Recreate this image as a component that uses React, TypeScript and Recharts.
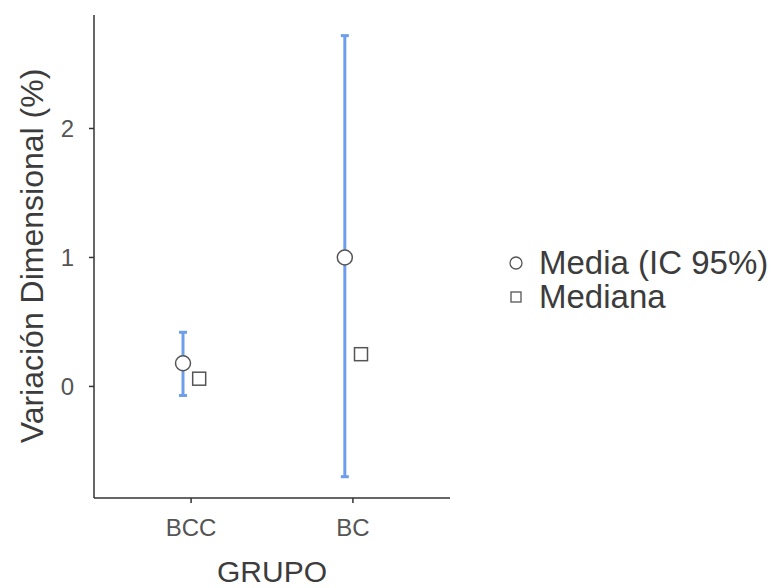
import React from "react";
import {
  ComposedChart,
  Scatter,
  ErrorBar,
  XAxis,
  YAxis,
  Label,
} from "recharts";

// group labels on the x axis
const groups = ["BCC", "BC"];
const groupPos = [1, 2];

// mean with 95% CI, and median, per group
const meanValues = [0.18, 1.0];
const ciLower = [-0.07, -0.7];
const ciUpper = [0.42, 2.72];
const medianValues = [0.06, 0.25];

const yTicks = [0, 1, 2];

const FONT = "'Liberation Sans', Arial, sans-serif";
const BLUE = "#6d9eeb";
const GREY = "#555555";
const TITLE = "#3c3c3c";

const meanData = groups.map((g, i) => ({
  x: groupPos[i] - 0.05,
  y: meanValues[i],
  ci: [meanValues[i] - ciLower[i], ciUpper[i] - meanValues[i]],
}));

const medianData = groups.map((g, i) => ({
  x: groupPos[i] + 0.05,
  y: medianValues[i],
}));

const CircleShape = (props: any) => (
  <circle cx={props.cx} cy={props.cy} r={7.5} fill="#ffffff" stroke={GREY} strokeWidth={1.5} />
);

const SquareShape = (props: any) => (
  <rect x={props.cx - 6.5} y={props.cy - 6.5} width={13} height={13} fill="#ffffff" stroke={GREY} strokeWidth={1.5} />
);

// legend drawn beside the plot, like the original
const LegendBox = () => (
  <div
    style={{
      position: "absolute",
      left: 500,
      top: 246,
      fontFamily: FONT,
      color: TITLE,
      fontSize: 33,
      lineHeight: "34px",
      whiteSpace: "nowrap",
    }}
  >
    <div style={{ display: "flex", alignItems: "center" }}>
      <svg width={26} height={34}>
        <circle cx={16} cy={17} r={6} fill="#fff" stroke={GREY} strokeWidth={1.3} />
      </svg>
      <span style={{ marginLeft: 13 }}>Media (IC 95%)</span>
    </div>
    <div style={{ display: "flex", alignItems: "center" }}>
      <svg width={26} height={34}>
        <rect x={11} y={12} width={10} height={10} fill="#fff" stroke={GREY} strokeWidth={1.3} />
      </svg>
      <span style={{ marginLeft: 13 }}>Mediana</span>
    </div>
  </div>
);

const App: React.FC = () => {
  return (
    <div style={{ position: "absolute", left: 0, top: 0, width: 773, height: 588, background: "#fff" }}>
      <ComposedChart
        width={773}
        height={588}
        margin={{ top: 15, right: 323, bottom: 0, left: 0 }}
      >
        <XAxis
          type="number"
          dataKey="x"
          domain={[0.4, 2.6]}
          ticks={groupPos}
          tickFormatter={(v: number) => groups[groupPos.indexOf(v)] ?? ""}
          height={90}
          axisLine={{ stroke: "#333333", strokeWidth: 1.5 }}
          tickLine={{ stroke: "#333333", strokeWidth: 1.5 }}
          tickSize={5}
          tickMargin={16}
          tick={{ fill: GREY, fontSize: 24, fontFamily: FONT }}
          allowDataOverflow
        >
          <Label
            content={() => (
              <text x={272} y={582} textAnchor="middle" fill={TITLE} fontSize={30} fontFamily={FONT}>
                GRUPO
              </text>
            )}
          />
        </XAxis>
        <YAxis
          type="number"
          domain={[-0.865, 2.88]}
          ticks={yTicks}
          width={94}
          axisLine={{ stroke: "#333333", strokeWidth: 1.5 }}
          tickLine={{ stroke: "#333333", strokeWidth: 1.5 }}
          tickSize={5}
          tickMargin={15}
          tick={{ fill: GREY, fontSize: 24, fontFamily: FONT }}
          allowDataOverflow
        >
          <Label
            content={() => (
              <text
                x={43}
                y={256}
                transform="rotate(-90 43 256)"
                textAnchor="middle"
                fill={TITLE}
                fontSize={32}
                fontFamily={FONT}
              >
                Variación Dimensional (%)
              </text>
            )}
          />
        </YAxis>
        <Scatter
          name="Media (IC 95%)"
          data={meanData}
          dataKey="y"
          shape={CircleShape}
          isAnimationActive={false}
        >
          <ErrorBar dataKey="ci" direction="y" width={4} stroke={BLUE} strokeWidth={3} />
        </Scatter>
        <Scatter
          name="Mediana"
          data={medianData}
          dataKey="y"
          shape={SquareShape}
          isAnimationActive={false}
        />
      </ComposedChart>
      <LegendBox />
    </div>
  );
};

export default App;
